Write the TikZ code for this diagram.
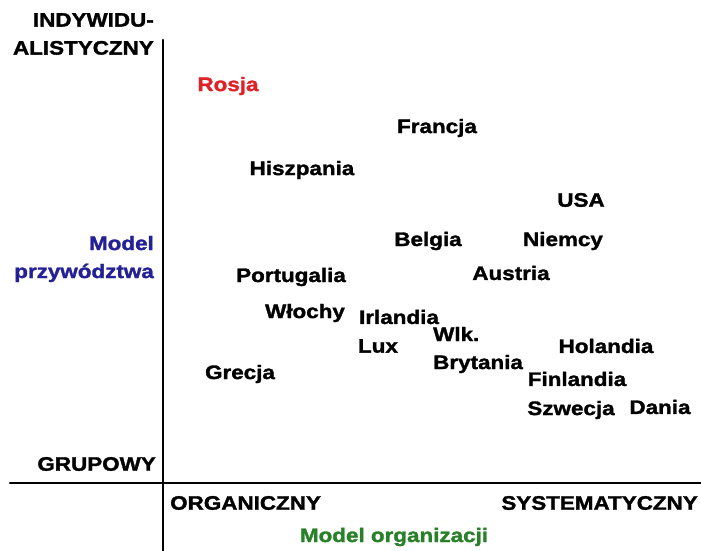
\documentclass[tikz,border=0pt]{standalone}
\usepackage{fontspec}
\setmainfont{Liberation Sans}
\newfontfamily\szeroki[FakeStretch=1.15,FakeBold=1.6]{Liberation Sans}
\definecolor{rosjared}{RGB}{222,34,40}
\definecolor{modelblue}{RGB}{36,32,150}
\definecolor{modelgreen}{RGB}{40,128,40}
\tikzset{
	kraj/.style={font=\szeroki\fontsize{19.5}{28}\selectfont\bfseries,inner sep=0pt},
	os/.style={line width=2.6pt}
}
\begin{document}
\begin{tikzpicture}[x=1pt,y=-1pt,line cap=round]
	\useasboundingbox (0,0) rectangle (701,551);
	
	% osie
	\coordinate (gora) at (163,40);
	\coordinate (dol) at (163,551);
	\coordinate (lewo) at (10,483);
	\coordinate (prawo) at (701,483);
	\draw[os] (gora)--(dol);
	\draw[os] (lewo)--(prawo);
	
	% opisy osi
	\node[kraj,anchor=east,align=right] (indyw) at (154,34) {INDYWIDU-\\ALISTYCZNY};
	\node[kraj,anchor=east,align=right,text=modelblue] (przyw) at (154,259) {Model\\przywództwa};
	\node[kraj,anchor=east] (grup) at (156,464) {GRUPOWY};
	\node[kraj,anchor=west] (organ) at (170,503) {ORGANICZNY};
	\node[kraj,anchor=east] (system) at (698,503) {SYSTEMATYCZNY};
	\node[kraj,text=modelgreen] (organiz) at (394,537) {Model organizacji};
	
	% kraje
	\node[kraj,text=rosjared] (rosja) at (228,86) {Rosja};
	\node[kraj] (francja) at (437,128) {Francja};
	\node[kraj] (hiszp) at (302,170) {Hiszpania};
	\node[kraj] (usa) at (581,200) {USA};
	\node[kraj] (belgia) at (428,241) {Belgia};
	\node[kraj] (niemcy) at (563,241) {Niemcy};
	\node[kraj] (portug) at (291,277) {Portugalia};
	\node[kraj] (austria) at (511,273) {Austria};
	\node[kraj] (wlochy) at (305,313) {Włochy};
	\node[kraj] (irland) at (399,317) {Irlandia};
	\node[kraj] (lux) at (378,346) {Lux};
	\node[kraj,anchor=west,align=left] (wlk) at (433,350) {Wlk.\\Brytania};
	\node[kraj] (holand) at (606,346) {Holandia};
	\node[kraj] (grecja) at (240,374) {Grecja};
	\node[kraj] (finland) at (577,379) {Finlandia};
	\node[kraj] (szwecja) at (571,410) {Szwecja};
	\node[kraj] (dania) at (660,407) {Dania};
\end{tikzpicture}
\end{document}
